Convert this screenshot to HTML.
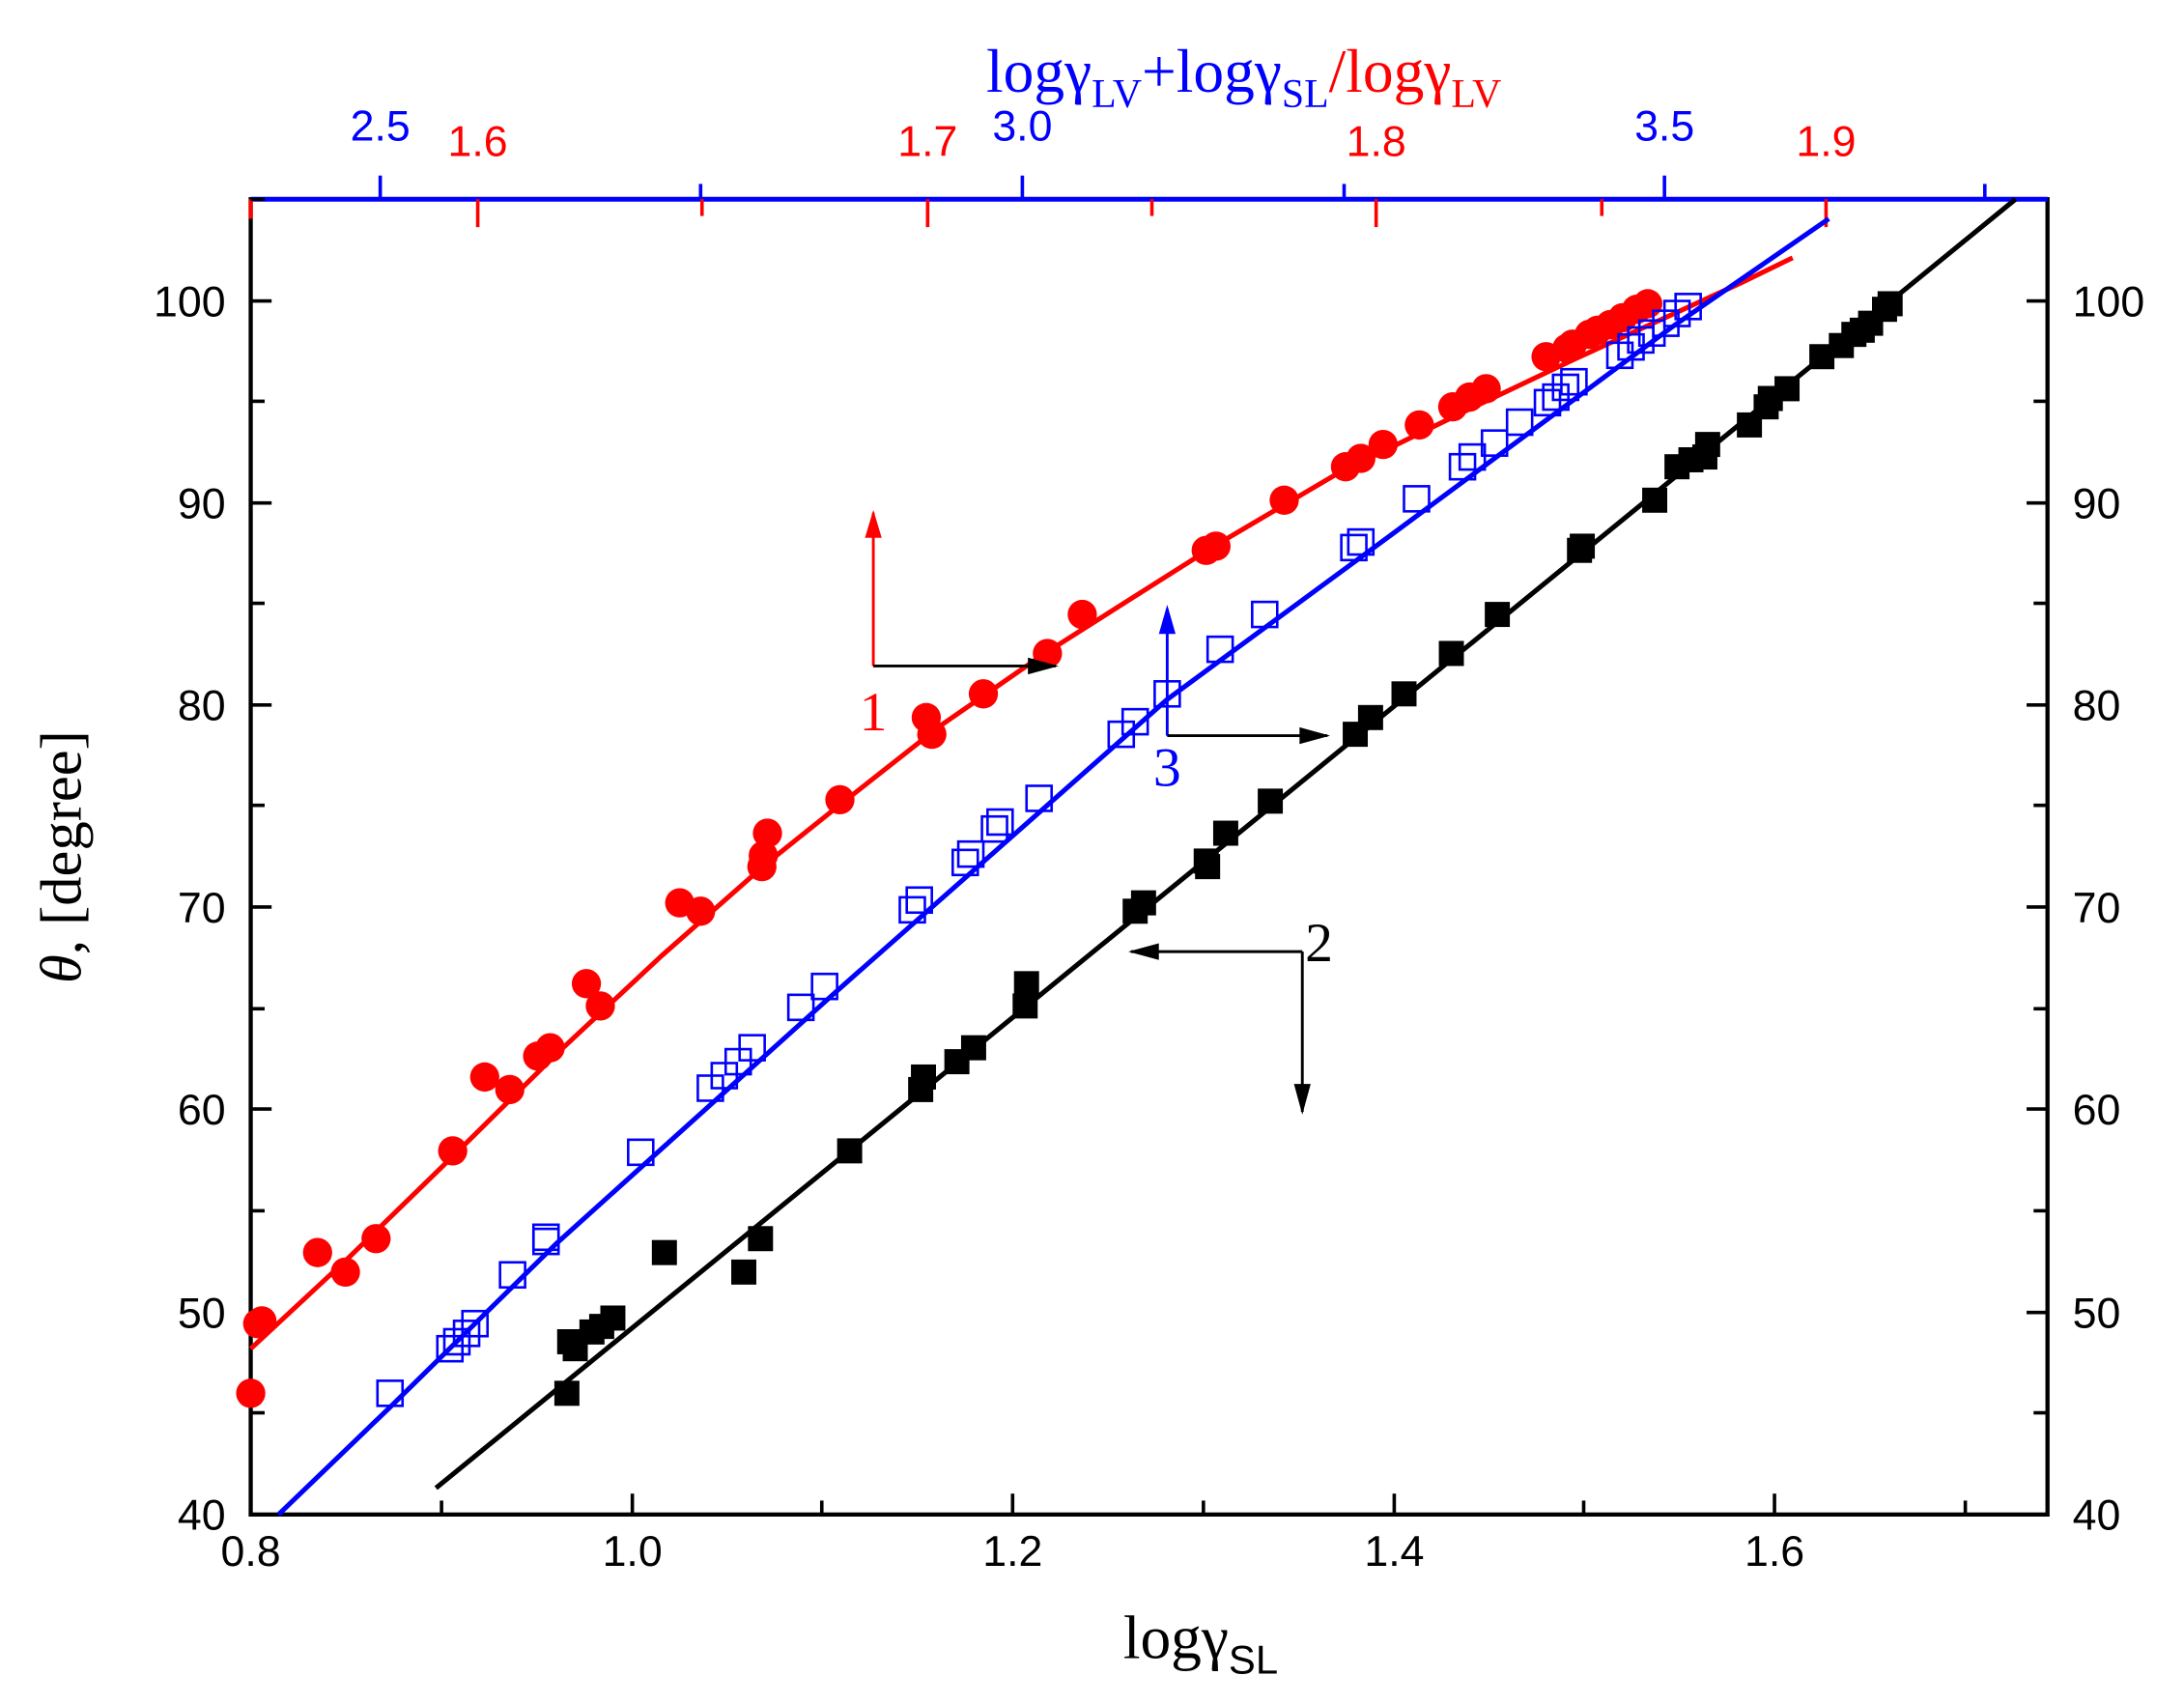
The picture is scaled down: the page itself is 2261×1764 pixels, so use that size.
<!DOCTYPE html>
<html><head><meta charset="utf-8"><style>html,body{margin:0;padding:0;background:#fff}svg{display:block}</style></head><body>
<svg width="2261" height="1764" viewBox="0 0 1568 1223" preserveAspectRatio="none" xmlns="http://www.w3.org/2000/svg" font-family="Liberation Sans, sans-serif">
<!-- frame -->
<rect x="180" y="143" width="1290" height="944" fill="none" stroke="#000" stroke-width="3"/>
<line x1="180" y1="143" x2="1470" y2="143" stroke="#00f" stroke-width="3.5"/>
<line x1="180" y1="143" x2="180" y2="157" stroke="red" stroke-width="3"/>
<g stroke="#000" stroke-width="2.5">
<line x1="180" y1="1087" x2="180" y2="1072"/><line x1="317" y1="1087" x2="317" y2="1077"/>
<line x1="454" y1="1087" x2="454" y2="1072"/><line x1="590" y1="1087" x2="590" y2="1077"/>
<line x1="727" y1="1087" x2="727" y2="1072"/><line x1="864" y1="1087" x2="864" y2="1077"/>
<line x1="1001" y1="1087" x2="1001" y2="1072"/><line x1="1137" y1="1087" x2="1137" y2="1077"/>
<line x1="1274" y1="1087" x2="1274" y2="1072"/><line x1="1411" y1="1087" x2="1411" y2="1077"/>
</g>
<g stroke="#000" stroke-width="2.5">
<line x1="180" y1="1087" x2="195" y2="1087"/><line x1="180" y1="1014" x2="190" y2="1014"/>
<line x1="180" y1="942" x2="195" y2="942"/><line x1="180" y1="869" x2="190" y2="869"/>
<line x1="180" y1="796" x2="195" y2="796"/><line x1="180" y1="724" x2="190" y2="724"/>
<line x1="180" y1="651" x2="195" y2="651"/><line x1="180" y1="578" x2="190" y2="578"/>
<line x1="180" y1="506" x2="195" y2="506"/><line x1="180" y1="433" x2="190" y2="433"/>
<line x1="180" y1="361" x2="195" y2="361"/><line x1="180" y1="288" x2="190" y2="288"/>
<line x1="180" y1="216" x2="195" y2="216"/><line x1="180" y1="143" x2="190" y2="143"/>
<line x1="1470" y1="1087" x2="1455" y2="1087"/><line x1="1470" y1="1014" x2="1460" y2="1014"/>
<line x1="1470" y1="942" x2="1455" y2="942"/><line x1="1470" y1="869" x2="1460" y2="869"/>
<line x1="1470" y1="796" x2="1455" y2="796"/><line x1="1470" y1="724" x2="1460" y2="724"/>
<line x1="1470" y1="651" x2="1455" y2="651"/><line x1="1470" y1="578" x2="1460" y2="578"/>
<line x1="1470" y1="506" x2="1455" y2="506"/><line x1="1470" y1="433" x2="1460" y2="433"/>
<line x1="1470" y1="361" x2="1455" y2="361"/><line x1="1470" y1="288" x2="1460" y2="288"/>
<line x1="1470" y1="216" x2="1455" y2="216"/>
</g>
<g stroke="#00f" stroke-width="2.5">
<line x1="273" y1="143" x2="273" y2="126"/><line x1="503" y1="143" x2="503" y2="132"/>
<line x1="734" y1="143" x2="734" y2="126"/><line x1="965" y1="143" x2="965" y2="132"/>
<line x1="1195" y1="143" x2="1195" y2="126"/><line x1="1425" y1="143" x2="1425" y2="132"/>
</g>
<g stroke="red" stroke-width="2.5">
<line x1="343" y1="143" x2="343" y2="163"/><line x1="504" y1="143" x2="504" y2="155"/>
<line x1="666" y1="143" x2="666" y2="163"/><line x1="827" y1="143" x2="827" y2="155"/>
<line x1="988" y1="143" x2="988" y2="163"/><line x1="1150" y1="143" x2="1150" y2="155"/>
<line x1="1311" y1="143" x2="1311" y2="163"/>
</g>
<!-- tick labels -->
<g font-size="31" fill="#000" text-anchor="end">
<text x="162" y="1098">40</text><text x="162" y="953">50</text><text x="162" y="807">60</text>
<text x="162" y="662">70</text><text x="162" y="517">80</text><text x="162" y="372">90</text><text x="162" y="227">100</text>
</g>
<g font-size="31" fill="#000">
<text x="1488" y="1098">40</text><text x="1488" y="953">50</text><text x="1488" y="807">60</text>
<text x="1488" y="662">70</text><text x="1488" y="517">80</text><text x="1488" y="372">90</text><text x="1488" y="227">100</text>
</g>
<g font-size="31" fill="#000" text-anchor="middle">
<text x="180" y="1124">0.8</text><text x="454" y="1124">1.0</text><text x="727" y="1124">1.2</text>
<text x="1001" y="1124">1.4</text><text x="1274" y="1124">1.6</text>
</g>
<g font-size="31" fill="#00f" text-anchor="middle">
<text x="273" y="101">2.5</text><text x="734" y="101">3.0</text><text x="1195" y="101">3.5</text>
</g>
<g font-size="31" fill="red" text-anchor="middle">
<text x="343" y="112">1.6</text><text x="666" y="112">1.7</text><text x="988" y="112">1.8</text><text x="1311" y="112">1.9</text>
</g>
<!-- axis titles -->
<text x="862" y="1190" font-family="Liberation Serif, serif" font-size="44" text-anchor="middle">logγ<tspan font-family="Liberation Sans, sans-serif" font-size="29" dy="11">SL</tspan></text>
<text transform="translate(58,615) rotate(-90)" font-family="Liberation Serif, serif" font-size="42" text-anchor="middle"><tspan font-style="italic">θ</tspan>, [degree]</text>
<text x="893" y="66" font-family="Liberation Serif, serif" font-size="44" text-anchor="middle"><tspan fill="#00f">logγ</tspan><tspan fill="#00f" font-size="29" dy="11">LV</tspan><tspan fill="#00f" dy="-11">+logγ</tspan><tspan fill="#00f" font-size="29" dy="11">SL</tspan><tspan fill="red" dy="-11">/logγ</tspan><tspan fill="red" font-size="29" dy="11">LV</tspan></text>
<!-- lines -->
<polyline fill="none" stroke="red" stroke-width="3.5" stroke-linejoin="round" points="180,968 250,903 325,830 400,756 475,686 550,620 600,580 675,521 750,469 810,431 870,393 960,340 1050,296 1130,258 1200,226 1250,203 1287,185"/>
<polyline fill="none" stroke="#00f" stroke-width="3.5" stroke-linejoin="round" points="200,1087 280,1010 400,892 600,712 838,502 1000,383 1200,235 1313,157"/>
<line x1="313" y1="1068" x2="1447" y2="143" stroke="#000" stroke-width="3.5"/>
<!-- red circles -->
<g fill="red">
<circle cx="180" cy="1000" r="10.5"/><circle cx="185" cy="950" r="10.5"/><circle cx="188" cy="948" r="10.5"/><circle cx="228" cy="899" r="10.5"/><circle cx="248" cy="913" r="10.5"/><circle cx="270" cy="889" r="10.5"/><circle cx="325" cy="826" r="10.5"/><circle cx="348" cy="773" r="10.5"/><circle cx="366" cy="782" r="10.5"/><circle cx="386" cy="758" r="10.5"/><circle cx="395" cy="752" r="10.5"/><circle cx="421" cy="706" r="10.5"/><circle cx="431" cy="722" r="10.5"/><circle cx="488" cy="648" r="10.5"/><circle cx="503" cy="654" r="10.5"/><circle cx="547" cy="622" r="10.5"/><circle cx="548" cy="614" r="10.5"/><circle cx="551" cy="598" r="10.5"/><circle cx="603" cy="574" r="10.5"/><circle cx="665" cy="515" r="10.5"/><circle cx="669" cy="527" r="10.5"/><circle cx="706" cy="498" r="10.5"/><circle cx="752" cy="469" r="10.5"/><circle cx="777" cy="441" r="10.5"/><circle cx="866" cy="395" r="10.5"/><circle cx="873" cy="392" r="10.5"/><circle cx="922" cy="359" r="10.5"/><circle cx="966" cy="335" r="10.5"/><circle cx="977" cy="329" r="10.5"/><circle cx="993" cy="319" r="10.5"/><circle cx="1019" cy="305" r="10.5"/><circle cx="1043" cy="292" r="10.5"/><circle cx="1055" cy="285" r="10.5"/><circle cx="1067" cy="279" r="10.5"/><circle cx="1110" cy="256" r="10.5"/><circle cx="1125" cy="250" r="10.5"/><circle cx="1129" cy="247" r="10.5"/><circle cx="1141" cy="240" r="10.5"/><circle cx="1147" cy="237" r="10.5"/><circle cx="1156" cy="233" r="10.5"/><circle cx="1165" cy="228" r="10.5"/><circle cx="1175" cy="222" r="10.5"/><circle cx="1183" cy="218" r="10.5"/>
</g>
<g fill="none" stroke="#00f" stroke-width="1.8">
<rect x="271" y="991" width="18" height="18"/><rect x="314" y="959" width="18" height="18"/><rect x="319" y="954" width="18" height="18"/><rect x="326" y="948" width="18" height="18"/><rect x="332" y="941" width="18" height="18"/><rect x="359" y="906" width="18" height="18"/><rect x="383" y="882" width="18" height="18"/><rect x="383" y="879" width="18" height="18"/><rect x="451" y="818" width="18" height="18"/><rect x="501" y="772" width="18" height="18"/><rect x="511" y="763" width="18" height="18"/><rect x="521" y="753" width="18" height="18"/><rect x="531" y="743" width="18" height="18"/><rect x="566" y="714" width="18" height="18"/><rect x="583" y="699" width="18" height="18"/><rect x="646" y="644" width="18" height="18"/><rect x="651" y="637" width="18" height="18"/><rect x="684" y="610" width="18" height="18"/><rect x="688" y="604" width="18" height="18"/><rect x="705" y="586" width="18" height="18"/><rect x="709" y="581" width="18" height="18"/><rect x="737" y="564" width="18" height="18"/><rect x="796" y="518" width="18" height="18"/><rect x="806" y="509" width="18" height="18"/><rect x="829" y="489" width="18" height="18"/><rect x="867" y="457" width="18" height="18"/><rect x="899" y="432" width="18" height="18"/><rect x="963" y="384" width="18" height="18"/><rect x="968" y="380" width="18" height="18"/><rect x="1008" y="349" width="18" height="18"/><rect x="1041" y="326" width="18" height="18"/><rect x="1048" y="319" width="18" height="18"/><rect x="1064" y="309" width="18" height="18"/><rect x="1082" y="294" width="18" height="18"/><rect x="1102" y="280" width="18" height="18"/><rect x="1108" y="276" width="18" height="18"/><rect x="1115" y="269" width="18" height="18"/><rect x="1121" y="265" width="18" height="18"/><rect x="1154" y="246" width="18" height="18"/><rect x="1162" y="240" width="18" height="18"/><rect x="1169" y="235" width="18" height="18"/><rect x="1177" y="230" width="18" height="18"/><rect x="1187" y="223" width="18" height="18"/><rect x="1195" y="216" width="18" height="18"/><rect x="1203" y="211" width="18" height="18"/>
</g>
<g fill="#000">
<rect x="398" y="991" width="18" height="18"/><rect x="400" y="954" width="18" height="18"/><rect x="404" y="959" width="18" height="18"/><rect x="416" y="947" width="18" height="18"/><rect x="423" y="943" width="18" height="18"/><rect x="431" y="937" width="18" height="18"/><rect x="468" y="890" width="18" height="18"/><rect x="525" y="904" width="18" height="18"/><rect x="537" y="880" width="18" height="18"/><rect x="601" y="817" width="18" height="18"/><rect x="652" y="773" width="18" height="18"/><rect x="654" y="764" width="18" height="18"/><rect x="678" y="753" width="18" height="18"/><rect x="690" y="743" width="18" height="18"/><rect x="727" y="713" width="18" height="18"/><rect x="728" y="697" width="18" height="18"/><rect x="806" y="645" width="18" height="18"/><rect x="812" y="639" width="18" height="18"/><rect x="857" y="609" width="18" height="18"/><rect x="858" y="613" width="18" height="18"/><rect x="871" y="589" width="18" height="18"/><rect x="903" y="566" width="18" height="18"/><rect x="964" y="518" width="18" height="18"/><rect x="975" y="506" width="18" height="18"/><rect x="999" y="489" width="18" height="18"/><rect x="1033" y="460" width="18" height="18"/><rect x="1066" y="432" width="18" height="18"/><rect x="1125" y="386" width="18" height="18"/><rect x="1127" y="383" width="18" height="18"/><rect x="1179" y="350" width="18" height="18"/><rect x="1195" y="326" width="18" height="18"/><rect x="1205" y="321" width="18" height="18"/><rect x="1215" y="319" width="18" height="18"/><rect x="1217" y="310" width="18" height="18"/><rect x="1247" y="296" width="18" height="18"/><rect x="1259" y="283" width="18" height="18"/><rect x="1262" y="277" width="18" height="18"/><rect x="1274" y="270" width="18" height="18"/><rect x="1299" y="247" width="18" height="18"/><rect x="1313" y="239" width="18" height="18"/><rect x="1322" y="231" width="18" height="18"/><rect x="1328" y="228" width="18" height="18"/><rect x="1334" y="223" width="18" height="18"/><rect x="1344" y="213" width="18" height="18"/><rect x="1348" y="209" width="18" height="18"/>
</g>
<!-- annotations -->
<line x1="627" y1="478" x2="627" y2="368" stroke="red" stroke-width="2"/>
<path d="M621,386 L627,366 L633,386 Z" fill="red"/>
<line x1="627" y1="478" x2="758" y2="478" stroke="#000" stroke-width="2"/>
<path d="M738,472 L760,478 L738,484 Z" fill="#000"/>
<text x="627" y="524" font-family="Liberation Serif, serif" font-size="40" fill="red" text-anchor="middle">1</text>
<line x1="838" y1="528" x2="838" y2="437" stroke="#00f" stroke-width="2"/>
<path d="M832,455 L838,434 L844,455 Z" fill="#00f"/>
<line x1="838" y1="528" x2="953" y2="528" stroke="#000" stroke-width="2"/>
<path d="M933,522 L955,528 L933,534 Z" fill="#000"/>
<text x="838" y="564" font-family="Liberation Serif, serif" font-size="40" fill="#00f" text-anchor="middle">3</text>
<line x1="935" y1="683" x2="812" y2="683" stroke="#000" stroke-width="2"/>
<path d="M832,677 L810,683 L832,689 Z" fill="#000"/>
<line x1="935" y1="683" x2="935" y2="798" stroke="#000" stroke-width="2"/>
<path d="M929,778 L935,800 L941,778 Z" fill="#000"/>
<text x="947" y="690" font-family="Liberation Serif, serif" font-size="40" fill="#000" text-anchor="middle">2</text>
</svg>
</body></html>
